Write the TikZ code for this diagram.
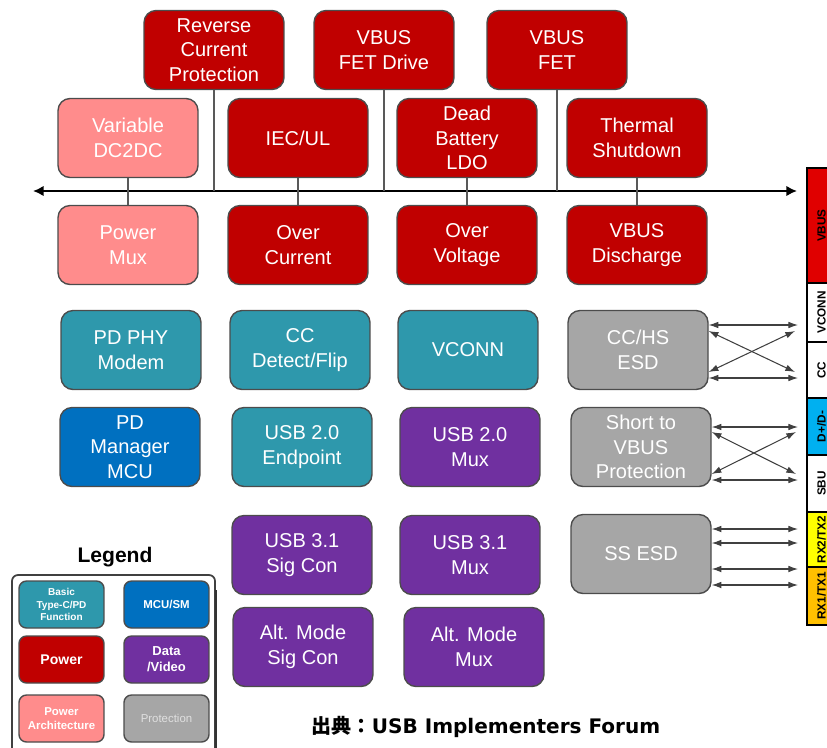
\documentclass[tikz,border=0pt]{standalone}
\usepackage{fontspec}
\setmainfont{Liberation Sans}
\newfontfamily\cjk{Noto Sans CJK JP}
\newfontfamily\srcfont{DejaVu Sans}
\usetikzlibrary{arrows.meta}
\definecolor{pwrred}{HTML}{C00000}
\definecolor{pwrpink}{HTML}{FF8C8C}
\definecolor{basicteal}{HTML}{2E98AC}
\definecolor{mcublue}{HTML}{0070C0}
\definecolor{datapurple}{HTML}{7030A0}
\definecolor{protgray}{HTML}{A6A6A6}
\definecolor{barred}{HTML}{E00000}
\definecolor{barblue}{HTML}{00B0F0}
\definecolor{baryellow}{HTML}{FFFF00}
\definecolor{barorange}{HTML}{FFC000}

\begin{document}
\begin{tikzpicture}[x=0.02cm, y=-0.02cm,
                    line width=0.8pt,
                    >={Latex[length=5.5pt,width=3.8pt]}]
    \tikzstyle{block}=[rectangle, rounded corners=0.24cm, draw=black!70, minimum width=2.8cm, minimum height=1.58cm, align=center, text=white, font=\fontsize{11.4}{13.9}\selectfont, inner sep=1pt]
    \tikzstyle{power}=[block, fill=pwrred];
    \tikzstyle{powerarch}=[block, fill=pwrpink];
    \tikzstyle{basic}=[block, fill=basicteal];
    \tikzstyle{mcu}=[block, fill=mcublue];
    \tikzstyle{data}=[block, fill=datapurple];
    \tikzstyle{prot}=[block, fill=protgray];
    \tikzstyle{legendbox}=[rectangle, rounded corners=0.15cm, draw=black!70, minimum width=1.7cm, minimum height=0.94cm, align=center, text=white, font=\bfseries\fontsize{5.7}{7}\selectfont, inner sep=1pt]
    \tikzstyle{seg}=[rectangle, draw=black, line width=1.2pt, rotate=90, minimum height=0.58cm, inner sep=0pt, font=\bfseries\fontsize{6.7}{7}\selectfont]
    \tikzstyle{link}=[draw=black!65, line width=0.6pt]
    \tikzstyle{sig}=[<->, draw=black!75, line width=0.6pt]

    \useasboundingbox (0,0) rectangle (827,747);

    \node[power] (rcp) at (214,50) {Reverse\\Current\\Protection};
    \node[power] (fetdrive) at (384,50) {VBUS\\FET Drive};
    \node[power] (fet) at (557,50) {VBUS\\FET};

    \node[powerarch] (dc2dc) at (128,138) {Variable\\DC2DC};
    \node[power] (iecul) at (298,138) {IEC/UL};
    \node[power] (ldo) at (467,138) {Dead\\Battery\\LDO};
    \node[power] (thermal) at (637,138) {Thermal\\Shutdown};

    \node[powerarch] (pmux) at (128,245) {Power\\Mux};
    \node[power] (ocur) at (298,245) {Over\\Current};
    \node[power] (ovolt) at (467,245) {Over\\Voltage};
    \node[power] (vdis) at (637,245) {VBUS\\Discharge};

    \node[basic] (phy) at (131,350) {PD PHY\\Modem};
    \node[basic] (ccdet) at (300,350) {CC\\Detect/Flip};
    \node[basic] (vconn) at (468,350) {VCONN};
    \node[prot] (ccesd) at (638,350) {CC/HS\\ESD};

    \node[mcu] (pdmgr) at (130,447) {PD\\Manager\\MCU};
    \node[basic] (usbep) at (302,447) {USB 2.0\\Endpoint};
    \node[data] (usbmux) at (470,447) {USB 2.0\\Mux};
    \node[prot] (short) at (641,447) {Short to\\VBUS\\Protection};

    \node[data] (sigcon) at (302,555) {USB 3.1\\Sig Con};
    \node[data] (ssmux) at (470,555) {USB 3.1\\Mux};
    \node[prot] (ssesd) at (641,554) {SS ESD};

    \node[data] (altsig) at (303,647) {Alt. Mode\\Sig Con};
    \node[data] (altmux) at (474,647) {Alt. Mode\\Mux};

    \coordinate (axl) at (33,191);
    \coordinate (axr) at (797,191);
    \draw[<->, >={Latex[length=6pt,width=6pt]}, line width=1.6pt] (axl) -- (axr);

    \draw[link] (rcp) -- (rcp |- axl);
    \draw[link] (fetdrive) -- (fetdrive |- axl);
    \draw[link] (fet) -- (fet |- axl);
    \draw[link] (dc2dc) -- (pmux);
    \draw[link] (iecul) -- (ocur);
    \draw[link] (ldo) -- (ovolt);
    \draw[link] (thermal) -- (vdis);

    \node[seg, fill=barred, minimum width=2.30cm] (pvbus) at (821.5,225.5) {VBUS};
    \node[seg, fill=white, minimum width=1.18cm] (pvconn) at (821.5,312.5) {VCONN};
    \node[seg, fill=white, minimum width=1.12cm] (pcc) at (821.5,370) {CC};
    \node[seg, fill=barblue, minimum width=1.14cm] (pdata) at (821.5,426.5) {D+/D-};
    \node[seg, fill=white, minimum width=1.14cm] (psbu) at (821.5,483.5) {SBU};
    \node[seg, fill=baryellow, minimum width=1.10cm] (prx2) at (821.5,539.5) {RX2/TX2};
    \node[seg, fill=barorange, minimum width=1.16cm] (prx1) at (821.5,596) {RX1/TX1};

    \coordinate (c1) at (798,325);
    \coordinate (c2) at (795,331);
    \coordinate (c3) at (795,372);
    \coordinate (c4) at (798,378);
    \draw[sig] (ccesd.east |- c1) -- (c1);
    \draw[sig] (ccesd.east |- c2) -- (c3);
    \draw[sig] (ccesd.east |- c3) -- (c2);
    \draw[sig] (ccesd.east |- c4) -- (c4);

    \coordinate (d1) at (798,427);
    \coordinate (d2) at (796,432);
    \coordinate (d3) at (796,474);
    \coordinate (d4) at (798,480);
    \draw[sig] (short.east |- d1) -- (d1);
    \draw[sig] (short.east |- d2) -- (d3);
    \draw[sig] (short.east |- d3) -- (d2);
    \draw[sig] (short.east |- d4) -- (d4);

    \coordinate (s1) at (798,529);
    \coordinate (s2) at (798,543);
    \coordinate (s3) at (798,569);
    \coordinate (s4) at (798,585);
    \draw[sig] (ssesd.east |- s1) -- (s1);
    \draw[sig] (ssesd.east |- s2) -- (s2);
    \draw[sig] (ssesd.east |- s3) -- (s3);
    \draw[sig] (ssesd.east |- s4) -- (s4);

    \node[font=\bfseries\fontsize{12}{14}\selectfont] (lgtitle) at (115,557) {Legend};
    \draw[draw=black!75, line width=1pt, rounded corners=0.12cm] (12,750) |- (215,575) -- (215,750);
    \draw[draw=black!80, line width=1.6pt] (216,590) -- (216,750);
    \node[legendbox, fill=basicteal] (lgbasic) at (61.5,604.5) {Basic\\Type-C/PD\\Function};
    \node[legendbox, fill=mcublue, font=\bfseries\fontsize{6.5}{8}\selectfont] (lgmcu) at (166.5,604.5) {MCU/SM};
    \node[legendbox, fill=pwrred, font=\bfseries\fontsize{8}{9.5}\selectfont] (lgpower) at (61.5,659.5) {Power};
    \node[legendbox, fill=datapurple, font=\bfseries\fontsize{7.4}{9}\selectfont] (lgdata) at (166.5,659.5) {Data\\/Video};
    \node[legendbox, fill=pwrpink, font=\bfseries\fontsize{6.5}{8}\selectfont] (lgarch) at (61.5,718.5) {Power\\Architecture};
    \node[legendbox, fill=protgray, text=black!12, font=\fontsize{6.5}{8}\selectfont] (lgprot) at (166.5,718.5) {Protection};

    \node[font=\bfseries\fontsize{11.4}{12.5}\selectfont] (src) at (486,727) {{\cjk 出典：}{\srcfont USB Implementers Forum}};
\end{tikzpicture}
\end{document}
